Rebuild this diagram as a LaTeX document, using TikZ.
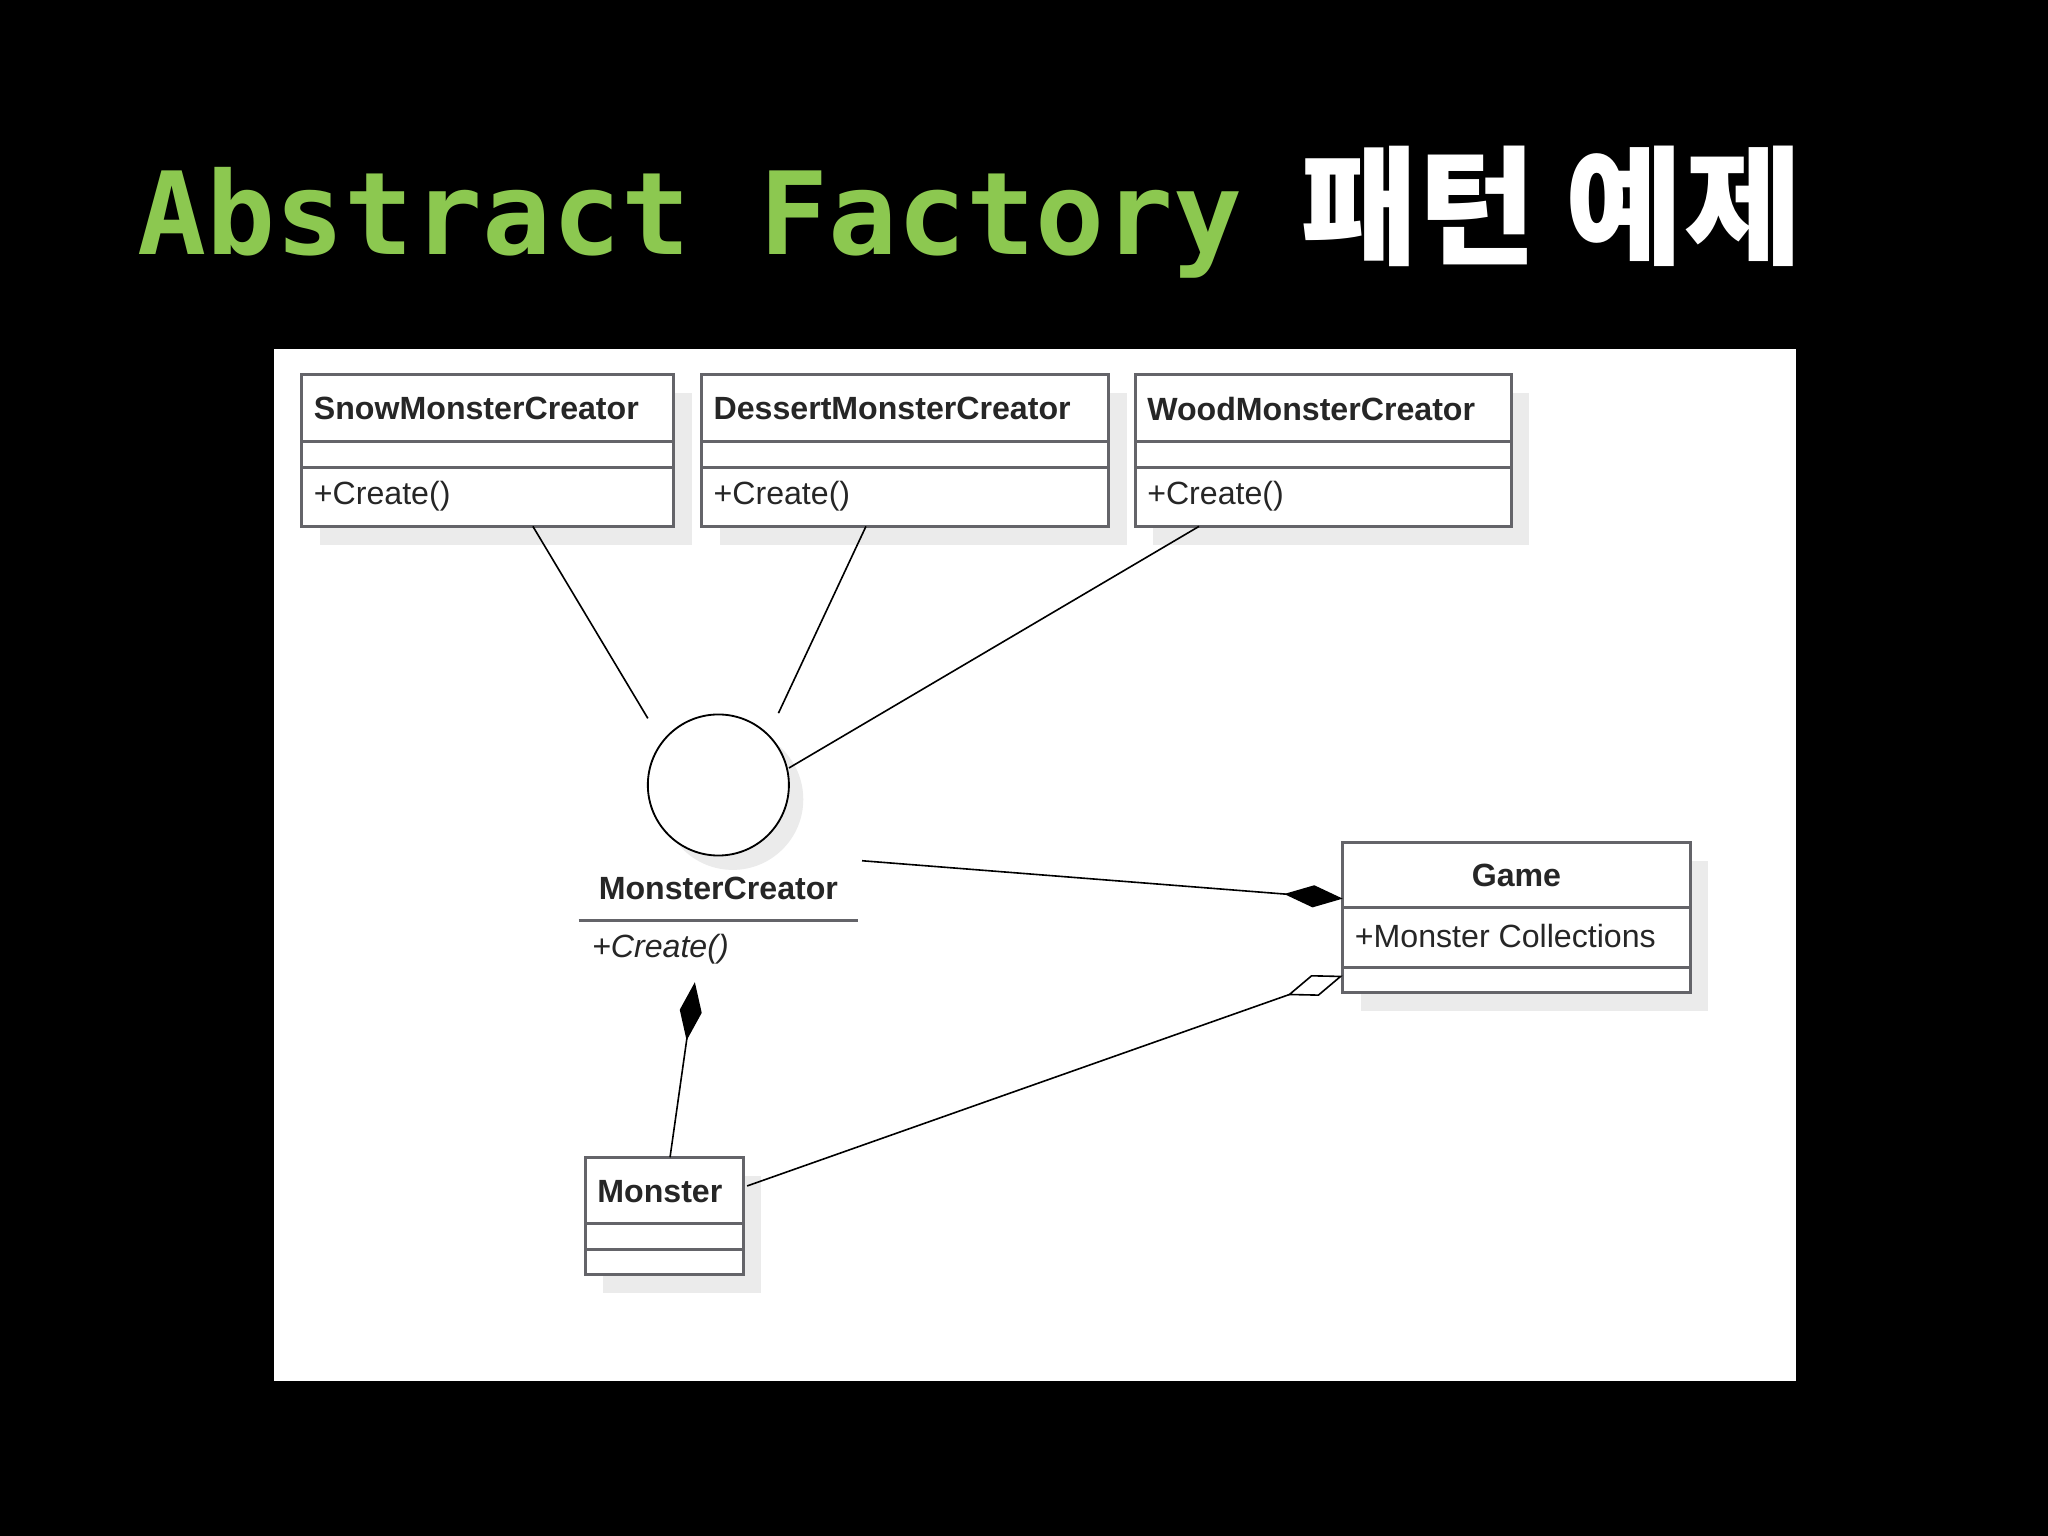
\documentclass[tikz,border=0pt]{standalone}
\usepackage{fontspec}
\setmainfont{Liberation Sans}
\newfontfamily\monofnt{DejaVu Sans Mono}
\newfontfamily\cjk{Noto Sans CJK KR}
\usetikzlibrary{arrows.meta}
\definecolor{titlegreen}{RGB}{140,200,80}
\definecolor{boxline}{RGB}{100,100,105}
\tikzset{
  u/.style={x=0.02cm,y=-0.02cm},
  uml/.style={draw=boxline,line width=1.3pt,fill=white},
  shad/.style={fill=black!8},
  cname/.style={font=\bfseries\fontsize{14}{16}\selectfont,text=black!85,inner sep=0pt},
  cop/.style={font=\fontsize{14}{16}\selectfont,text=black!85,inner sep=0pt},
  conn/.style={draw=black,line width=0.7pt},
}
\begin{document}
\begin{tikzpicture}[u]
\fill[black] (0,0) rectangle (1568,1176);
\node[anchor=base west,inner sep=0pt,text=titlegreen,font=\monofnt\bfseries\fontsize{50}{56}\selectfont] (t1) at (105,195) {Abstract Factory};
\node[anchor=base west,inner sep=0pt,text=white,font=\cjk\bfseries\fontsize{56}{60}\selectfont] (t2) at (995,195) {패턴 예제};
\fill[white] (210,267) rectangle (1375,1057);
% class boxes
\foreach \n/\xa/\xb/\ya/\yb/\la/\lb in {snow/231/516/287/403/338/358, des/537/849/287/403/338/358, wood/869/1157/287/403/338/358, game/1028/1294/645/760/695/741, mon/448/569/886/976/937/957}{
  \fill[shad] (\xa+14,\ya+14) rectangle (\xb+14,\yb+14);
  \draw[uml] (\xa,\ya) rectangle (\xb,\yb);
  \draw[boxline,line width=1.3pt] (\xa,\la) -- (\xb,\la) (\xa,\lb) -- (\xb,\lb);
}
\node[cname,anchor=west] (snowN) at (240,313) {SnowMonsterCreator};
\node[cop,anchor=west] (snowO) at (240,380) {+Create()};
\node[cname,anchor=west] (desN) at (546,313) {DessertMonsterCreator};
\node[cop,anchor=west] (desO) at (546,380) {+Create()};
\node[cname,anchor=west] (woodN) at (878,313) {WoodMonsterCreator};
\node[cop,anchor=west] (woodO) at (878,380) {+Create()};
\node[cname] (gameN) at (1161,670) {Game};
\node[cop,anchor=west] (gameO) at (1037,717) {+Monster Collections};
\node[cname,anchor=west] (monN) at (457,912) {Monster};
% interface
\fill[shad] (561,612) circle (54);
\draw[fill=white,line width=0.8pt] (550,601) circle (54);
\node[cname] (mcN) at (550,680) {MonsterCreator};
\draw[boxline,line width=1.3pt] (443,705) -- (657,705);
\node[cop,anchor=west,font=\itshape\fontsize{14}{16}\selectfont] (mcO) at (453,727) {+Create()};
% endpoints
\coordinate (s1) at (408,403); \coordinate (s2) at (496,550);
\coordinate (d1) at (663,403); \coordinate (d2) at (596,546);
\coordinate (w1) at (918,403); \coordinate (w2) at (604,588);
\coordinate (g1) at (660,659); \coordinate (g2) at (1028,688);
\coordinate (m1) at (513,886); \coordinate (m2) at (532,752);
\coordinate (a1) at (572,908); \coordinate (a2) at (1028,747);
\draw[conn] (s1) -- (s2);
\draw[conn] (d1) -- (d2);
\draw[conn] (w1) -- (w2);
\draw[conn,-{Diamond[length=0.9cm,width=0.34cm]}] (g1) -- (g2);
\draw[conn,-{Diamond[length=0.9cm,width=0.34cm]}] (m1) -- (m2);
\draw[conn,-{Diamond[open,length=0.9cm,width=0.34cm,fill=white]}] (a1) -- (a2);
\end{tikzpicture}
\end{document}
